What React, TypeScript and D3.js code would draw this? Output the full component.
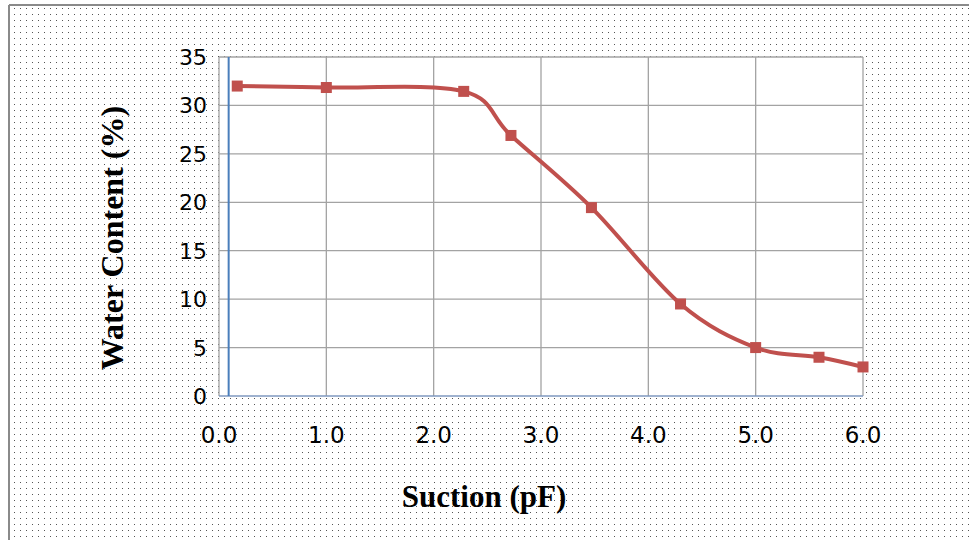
import React from "react";
import * as d3 from "d3";

// Soil-water retention data: suction (pF) vs water content (%)
const suction = [0.17, 1.0, 2.28, 2.72, 3.47, 4.3, 5.0, 5.59, 6.0];
const waterContent = [32.0, 31.85, 31.45, 26.9, 19.45, 9.5, 5.0, 4.0, 3.0];
const xTicks = [0, 1, 2, 3, 4, 5, 6];
const yTicks = [0, 5, 10, 15, 20, 25, 30, 35];
const referenceX = 0.09;

const W = 969;
const H = 540;
const plot = { left: 219, right: 863, top: 57, bottom: 396 };

export default function App() {
  const x = d3.scaleLinear().domain([0, 6]).range([plot.left, plot.right]);
  const y = d3.scaleLinear().domain([0, 35]).range([plot.bottom, plot.top]);

  const pts: [number, number][] = suction.map((s, i) => [s, waterContent[i]]);
  const line = d3
    .line<[number, number]>()
    .x((d) => x(d[0]))
    .y((d) => y(d[1]))
    .curve(d3.curveCardinal.tension(0));

  const gridColor = "#a3a3a3";
  const tickFont = "'DejaVu Sans', Verdana, sans-serif";
  const titleFont = "'Liberation Serif', 'Times New Roman', serif";

  return (
    <svg
      width={W}
      height={H}
      style={{ position: "fixed", left: 0, top: 0, display: "block" }}
    >
      <defs>
        <pattern id="dots" width={6} height={6} patternUnits="userSpaceOnUse">
          <rect x={2} y={2} width={1} height={1} fill="#555" />
        </pattern>
      </defs>
      <rect x={0} y={0} width={W} height={H} fill="#ffffff" />
      <rect x={9} y={5} width={W} height={H} fill="url(#dots)" />
      {/* chart frame */}
      <line x1={9} y1={5} x2={W} y2={5} stroke="#8a8a8a" strokeWidth={2} />
      <line x1={9} y1={5} x2={9} y2={H} stroke="#8a8a8a" strokeWidth={2} />

      {/* plot area */}
      <rect
        x={plot.left}
        y={plot.top}
        width={plot.right - plot.left}
        height={plot.bottom - plot.top}
        fill="#ffffff"
      />
      {yTicks.slice(1).map((t) => (
        <line
          key={"gy" + t}
          x1={plot.left}
          x2={plot.right}
          y1={y(t)}
          y2={y(t)}
          stroke={gridColor}
          strokeWidth={1.3}
        />
      ))}
      {xTicks.map((t) => (
        <line
          key={"gx" + t}
          x1={x(t)}
          x2={x(t)}
          y1={plot.top}
          y2={plot.bottom}
          stroke={gridColor}
          strokeWidth={1.3}
        />
      ))}
      <line
        x1={plot.left}
        x2={plot.right}
        y1={plot.bottom}
        y2={plot.bottom}
        stroke="#7f99bf"
        strokeWidth={1.5}
      />
      <line
        x1={x(referenceX)}
        x2={x(referenceX)}
        y1={y(35)}
        y2={y(0)}
        stroke="#4a7ebb"
        strokeWidth={2}
      />

      {/* data series */}
      <path d={line(pts) || ""} fill="none" stroke="#c0504d" strokeWidth={4} />
      {pts.map((d, i) => (
        <rect
          key={"m" + i}
          x={x(d[0]) - 5.5}
          y={y(d[1]) - 5.5}
          width={11}
          height={11}
          fill="#c0504d"
        />
      ))}

      {/* tick labels */}
      {yTicks.map((t) => (
        <text
          key={"ty" + t}
          x={207}
          y={y(t) + 8}
          textAnchor="end"
          fontFamily={tickFont}
          fontSize={22}
          fill="#000"
        >
          {t}
        </text>
      ))}
      {xTicks.map((t) => (
        <text
          key={"tx" + t}
          x={x(t)}
          y={443}
          textAnchor="middle"
          fontFamily={tickFont}
          fontSize={23}
          fill="#000"
        >
          {t.toFixed(1)}
        </text>
      ))}

      {/* axis titles */}
      <text
        x={484}
        y={507}
        textAnchor="middle"
        fontFamily={titleFont}
        fontWeight="bold"
        fontSize={31}
        fill="#000"
      >
        Suction (pF)
      </text>
      <text
        transform={`translate(123, 238) rotate(-90)`}
        textAnchor="middle"
        fontFamily={titleFont}
        fontWeight="bold"
        fontSize={32}
        fill="#000"
      >
        Water Content (%)
      </text>
    </svg>
  );
}
